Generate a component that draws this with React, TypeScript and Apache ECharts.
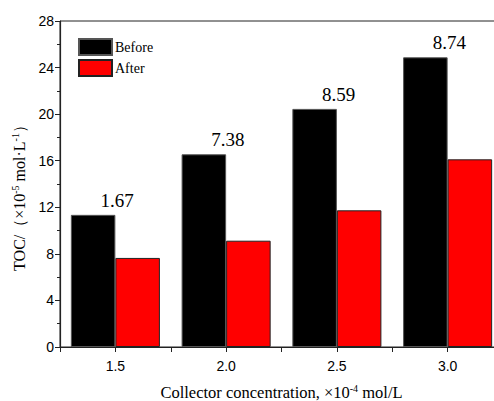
import React, { useEffect, useRef } from "react";
import * as echarts from "echarts";

const categories = ["1.5", "2.0", "2.5", "3.0"];
const beforeValues = [11.35, 16.55, 20.45, 24.88];
const afterValues = [7.65, 9.13, 11.74, 16.12];
const removalLabels = ["1.67", "7.38", "8.59", "8.74"];
const seriesNames = ["Before", "After"];

export default function App() {
  const ref = useRef<HTMLDivElement>(null);
  useEffect(() => {
    if (!ref.current) return;
    const chart = echarts.init(ref.current, null, { renderer: "svg" });
    const serif = "Liberation Serif";
    const sans = "Liberation Sans";
    chart.setOption({
      animation: false,
      backgroundColor: "#fff",
      grid: {
        left: 60,
        top: 21,
        bottom: 54,
        right: 7,
        outerBoundsMode: "none",
        containLabel: false,
        show: true,
        borderColor: "#222",
        borderWidth: 1,
      },
      legend: {
        orient: "vertical",
        left: 78,
        top: 35,
        padding: [3, 5, 3, 0],
        icon: "rect",
        itemWidth: 33,
        itemHeight: 16,
        itemGap: 3,
        data: seriesNames,
        textStyle: { fontFamily: serif, fontSize: 14, lineHeight: 16, color: "#000", padding: [0, 0, 0, -2] },
      },
      xAxis: [
        {
          type: "category",
          data: categories,
          axisLine: { lineStyle: { color: "#222", width: 1.2 } },
          axisTick: { show: true, inside: false, length: 5, alignWithLabel: false, lineStyle: { color: "#222" } },
          axisLabel: { fontFamily: sans, fontSize: 14, color: "#000", margin: 12 },
          name: "{n|Collector concentration, ×10}{s|-4}{n| mol/L}",
          nameLocation: "middle",
          nameGap: 36,
          nameTextStyle: {
            rich: {
              n: { fontFamily: serif, fontSize: 16.5, color: "#000", lineHeight: 18 },
              s: { fontFamily: serif, fontSize: 10, color: "#000", verticalAlign: "top", lineHeight: 10 },
            },
          },
        },
        {
          type: "category",
          data: categories,
          position: "bottom",
          axisLine: { show: false },
          axisTick: { show: true, inside: false, length: 5, alignWithLabel: true, lineStyle: { color: "#222" } },
          axisLabel: { show: false },
        },
      ],
      yAxis: {
        type: "value",
        min: 0,
        max: 28,
        interval: 4,
        splitLine: { show: false },
        axisLine: { show: true, lineStyle: { color: "#222", width: 1.2 } },
        axisTick: { show: true, inside: false, length: 5, lineStyle: { color: "#222" } },
        minorTick: { show: true, splitNumber: 2, length: 3, lineStyle: { color: "#222" } },
        axisLabel: { fontFamily: sans, fontSize: 14, color: "#000", margin: 6 },
        name: "{n|TOC/（×10}{s|-5}{n| mol·L}{s|-1}{n|）}",
        nameLocation: "middle",
        nameRotate: 90,
        nameGap: 32,
        nameTextStyle: {
          padding: [0, 20, 0, 0],
          rich: {
            n: { fontFamily: serif, fontSize: 16, color: "#000", lineHeight: 18 },
            s: { fontFamily: serif, fontSize: 10, color: "#000", verticalAlign: "top", lineHeight: 10 },
          },
        },
      },
      series: [
        {
          name: seriesNames[0],
          type: "bar",
          data: beforeValues,
          barGap: "0%",
          barCategoryGap: "19.6%",
          itemStyle: { color: "#000", borderColor: "#555", borderWidth: 1 },
          label: {
            show: true,
            position: "top",
            distance: 5,
            offset: [24, 0],
            fontFamily: serif,
            fontSize: 19,
            color: "#000",
            formatter: (p: any) => removalLabels[p.dataIndex],
          },
        },
        {
          name: seriesNames[1],
          type: "bar",
          data: afterValues,
          barGap: "0%",
          barCategoryGap: "19.6%",
          itemStyle: { color: "#ff0000", borderColor: "#222", borderWidth: 1 },
        },
      ],
    });
    return () => chart.dispose();
  }, []);
  return (
    <div
      ref={ref}
      style={{ position: "fixed", left: 0, top: 0, width: 510, height: 401 }}
    />
  );
}
